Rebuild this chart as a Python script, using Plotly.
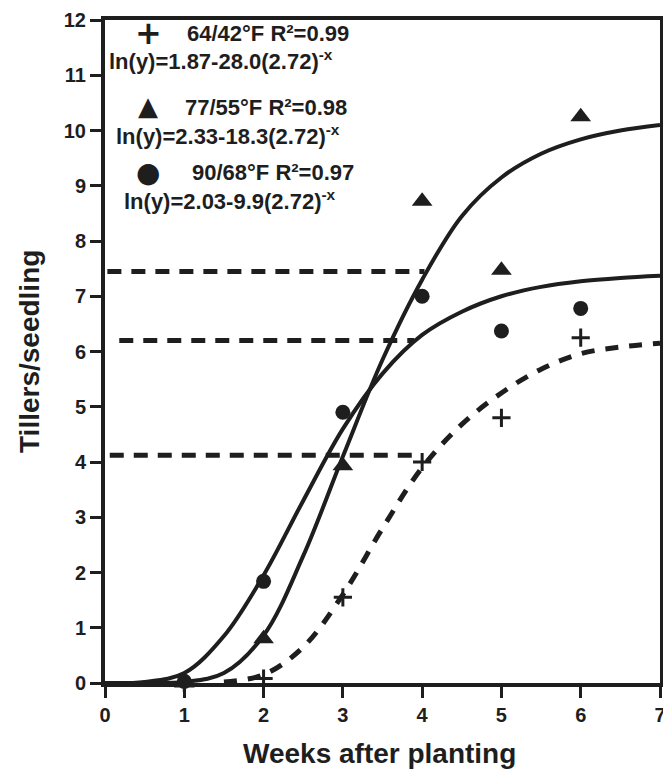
import plotly.graph_objects as go

# ---- observed data (tillers per seedling) ----
weeks = [1, 2, 3, 4, 5, 6]
cool_obs = [0.0, 0.08, 1.55, 4.0, 4.8, 6.25]      # 64/42 F  (+)
mid_obs = [0.0, 0.8, 3.93, 8.72, 7.47, 10.25]     # 77/55 F  (triangle)
warm_obs = [0.03, 1.84, 4.9, 7.0, 6.37, 6.78]     # 90/68 F  (circle)

# ---- fitted curves ----
curve_x = [0, 0.5, 1, 1.5, 2, 2.5, 3, 3.5, 4, 4.5, 5, 5.5, 6, 6.5, 7]
warm_fit = [0, 0.02, 0.18, 0.85, 1.95, 3.3, 4.6, 5.6, 6.3, 6.72, 7.0, 7.17, 7.27, 7.33, 7.37]
mid_fit = [0, 0, 0.02, 0.18, 0.86, 2.3, 4.1, 5.85, 7.3, 8.45, 9.15, 9.58, 9.84, 10.0, 10.1]
cool_fit_x = [1.5, 2, 2.5, 3, 3.5, 4, 4.5, 5, 5.5, 6, 6.5, 7]
cool_fit = [0.02, 0.15, 0.65, 1.6, 2.8, 3.9, 4.68, 5.25, 5.68, 5.96, 6.08, 6.15]

# ---- horizontal dashed reference levels ----
ref_levels = [7.45, 6.2, 4.12]
ref_start = [0.03, 0.18, 0.06]
ref_end = [4.03, 3.9, 3.95]

# ---- legend texts ----
legend_syms = ["+", "▲", "●"]
legend_heads = ["64/42°F R²=0.99", "77/55°F R²=0.98", "90/68°F R²=0.97"]
legend_eqs = ["ln(y)=1.87-28.0(2.72)<sup>-x</sup>",
              "ln(y)=2.33-18.3(2.72)<sup>-x</sup>",
              "ln(y)=2.03-9.9(2.72)<sup>-x</sup>"]

x_ticks = [0, 1, 2, 3, 4, 5, 6, 7]
y_ticks = list(range(0, 13))

FONT = "Liberation Sans, Arial, sans-serif"
INK = "#1e1e1e"

fig = go.Figure()

for lvl, x0, x1 in zip(ref_levels, ref_start, ref_end):
    fig.add_trace(go.Scatter(x=[x0, x1], y=[lvl, lvl], mode="lines",
                             line=dict(color=INK, width=5, dash="14px,10px"),
                             showlegend=False, hoverinfo="skip"))

fig.add_trace(go.Scatter(x=curve_x, y=warm_fit, mode="lines", line_shape="spline",
                         line=dict(color=INK, width=4), showlegend=False))
fig.add_trace(go.Scatter(x=curve_x, y=mid_fit, mode="lines", line_shape="spline",
                         line=dict(color=INK, width=4), showlegend=False))
fig.add_trace(go.Scatter(x=cool_fit_x, y=cool_fit, mode="lines", line_shape="spline",
                         line=dict(color=INK, width=5, dash="13px,11px"), showlegend=False))

fig.add_trace(go.Scatter(x=weeks, y=cool_obs, mode="markers",
                         marker=dict(symbol="cross-thin", size=13, line=dict(color=INK, width=3)),
                         showlegend=False, cliponaxis=False))
fig.add_trace(go.Scatter(x=weeks, y=mid_obs, mode="markers",
                         marker=dict(symbol="triangle-up", size=18, color=INK),
                         showlegend=False, cliponaxis=False))
fig.add_trace(go.Scatter(x=weeks, y=warm_obs, mode="markers",
                         marker=dict(symbol="circle", size=15, color=INK),
                         showlegend=False, cliponaxis=False))

# legend annotations (pixel positions converted to paper coords)
L, T, W, H = 105, 20, 555, 663
def px(xp):
    return (xp - L) / W
def py(yp):
    return (T + H - yp) / H

sym_sizes = [32, 26, 28]
head_pos = [(185, 33), (183, 108), (190, 173)]
sym_pos = [(148, 33), (148, 106), (148, 173)]
eq_pos = [(107, 60), (114, 135), (122, 200)]
for s, ss, sp, h, hp, e, ep in zip(legend_syms, sym_sizes, sym_pos, legend_heads, head_pos, legend_eqs, eq_pos):
    fig.add_annotation(x=px(sp[0]), y=py(sp[1]), xref="paper", yref="paper", text=s,
                       showarrow=False, xanchor="center", yanchor="middle",
                       font=dict(family="DejaVu Sans", size=ss, color=INK, weight="bold"))
    fig.add_annotation(x=px(hp[0]), y=py(hp[1]), xref="paper", yref="paper", text=h,
                       showarrow=False, xanchor="left", yanchor="middle",
                       font=dict(family=FONT, size=22, color=INK, weight="bold"))
    fig.add_annotation(x=px(ep[0]), y=py(ep[1]), xref="paper", yref="paper", text=e,
                       showarrow=False, xanchor="left", yanchor="middle",
                       font=dict(family=FONT, size=22, color=INK, weight="bold"))

# axis titles
fig.add_annotation(x=px(379), y=py(753), xref="paper", yref="paper",
                   text="Weeks after planting", showarrow=False,
                   xanchor="center", yanchor="middle",
                   font=dict(family=FONT, size=28, color=INK, weight="bold"))
fig.add_annotation(x=px(29), y=py(352), xref="paper", yref="paper",
                   text="Tillers/seedling", showarrow=False, textangle=-90,
                   xanchor="center", yanchor="middle",
                   font=dict(family=FONT, size=28, color=INK, weight="bold"))

fig.update_layout(
    width=663, height=774,
    margin=dict(l=L, r=663 - L - W, t=T, b=774 - T - H, autoexpand=False),
    plot_bgcolor="white", paper_bgcolor="white",
    font=dict(family=FONT, color=INK),
    xaxis=dict(range=[0, 7], tickvals=x_ticks, ticktext=[str(v) for v in x_ticks],
               automargin=False, ticklabeloverflow="allow",
               showgrid=False, zeroline=False, showline=True, mirror=True,
               linewidth=4, linecolor=INK, ticks="outside", ticklen=11, tickwidth=3,
               tickcolor=INK, tickfont=dict(family=FONT, size=20, color=INK, weight="bold")),
    yaxis=dict(range=[0, 12], tickvals=y_ticks, ticktext=[str(v) for v in y_ticks],
               automargin=False, ticklabeloverflow="allow",
               showgrid=False, zeroline=False, showline=True, mirror=True,
               linewidth=4, linecolor=INK, ticks="outside", ticklen=11, tickwidth=3,
               tickcolor=INK, tickfont=dict(family=FONT, size=20, color=INK, weight="bold")),
)

fig.write_html("out.html", config={"displayModeBar": False},
               post_script="document.body.style.margin='0px';document.body.style.overflow='hidden';")
